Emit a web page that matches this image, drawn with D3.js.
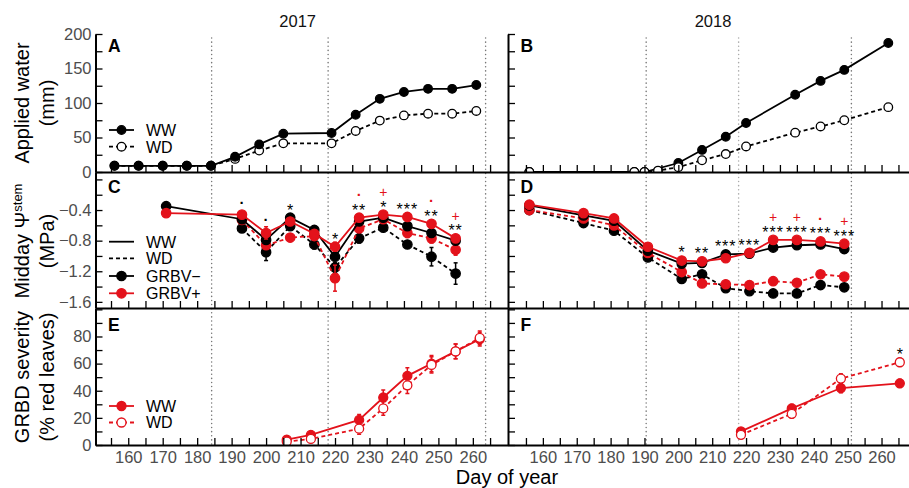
<!DOCTYPE html>
<html lang="en">
<head>
<meta charset="UTF-8">
<script src="https://cdn.jsdelivr.net/npm/d3@7"></script>
<style>
    body { margin: 0; background: #fff; }
    text { font-family: "Liberation Sans", Arial, sans-serif; }
    .axis path, .axis line { stroke: #000; }
    .axis path { stroke-width: 2px; }
    .axis line { stroke-width: 1.3px; }
    .axis text { fill: #4d4d4d; font-size: 16.5px; }
</style>
</head>
<body>
<svg id="chart" width="909" height="488"></svg>
<script>
// ---- applied water (mm) ----
const waterDays17 = [156, 163, 170, 177, 184, 191, 198, 205, 219, 226, 233, 240, 247, 254, 261]
const water17WW = [9, 9, 9, 9, 9, 22, 40, 55.5, 56.5, 83, 106, 116, 120.5, 120.5, 126]
const water17WD = [9, 9, 9, 9, 9, 19, 31, 41.5, 41.5, 59.5, 74.5, 82, 84.5, 84.5, 88.5]
const waterDays18WW = [156, 187, 190, 200, 207, 214, 220, 234.5, 242, 249, 262]
const water18WW = [0, 0, 0, 13, 32, 51, 71, 112, 132, 148, 187]
const waterDays18WD = [156, 187, 190, 194, 200, 207, 214, 220, 234.5, 242, 249, 262]
const water18WD = [0, 0, 0, 2, 7, 17, 26, 37, 57, 66, 75, 94]

// ---- midday stem water potential (MPa) ----
const psiDays17 = [171, 193, 200, 207, 214, 220, 227, 234, 241, 248, 255]
const psiWWneg17 = [-0.35, -0.52, -0.79, -0.50, -0.66, -1.01, -0.55, -0.50, -0.61, -0.70, -0.80]
const psiWWpos17 = [-0.44, -0.46, -0.70, -0.55, -0.71, -0.88, -0.50, -0.46, -0.49, -0.58, -0.77]
const errWWneg17 = [0.02, 0.04, 0.05, 0.04, 0.04, 0.05, 0.04, 0.03, 0.04, 0.04, 0.04]
const errWWpos17 = [0.02, 0.04, 0.08, 0.04, 0.05, 0.06, 0.04, 0.04, 0.04, 0.05, 0.05]
const psiDaysWD17 = [193, 200, 207, 214, 220, 227, 234, 241, 248, 255]
const psiWDneg17 = [-0.64, -0.95, -0.61, -0.85, -1.15, -0.77, -0.63, -0.85, -1.01, -1.23]
const psiWDpos17 = [-0.53, -0.86, -0.76, -0.74, -1.29, -0.64, -0.52, -0.70, -0.77, -0.92]
const errWDneg17 = [0.05, 0.11, 0.05, 0.06, 0.06, 0.06, 0.04, 0.05, 0.12, 0.14]
const errWDpos17 = [0.04, 0.05, 0.05, 0.05, 0.17, 0.05, 0.04, 0.06, 0.06, 0.07]
const sigBlack17 = ['', '·', '·', '*', '', '*', '**', '*', '***', '**', '**']
const sigRed17 = ['', '', '', '', '', '', '·', '+', '', '·', '+']

const psiDays18 = [156, 172, 181, 191, 201, 207, 214, 221, 228, 235, 242, 249]
const psiWWneg18 = [-0.34, -0.47, -0.54, -0.93, -1.10, -1.09, -0.98, -0.97, -0.89, -0.86, -0.85, -0.91]
const psiWWpos18 = [-0.33, -0.44, -0.51, -0.88, -1.06, -1.07, -1.03, -0.96, -0.79, -0.79, -0.81, -0.84]
const psiWDneg18 = [-0.40, -0.57, -0.67, -1.02, -1.30, -1.24, -1.42, -1.46, -1.49, -1.49, -1.38, -1.41]
const psiWDpos18 = [-0.40, -0.51, -0.60, -0.96, -1.21, -1.36, -1.37, -1.38, -1.33, -1.35, -1.24, -1.27]
const errPsi18 = [0.03, 0.03, 0.03, 0.04, 0.03, 0.04, 0.03, 0.03, 0.03, 0.03, 0.03, 0.03]
const sigBlack18 = ['', '', '', '', '*', '**', '***', '***', '***', '***', '***', '***']
const sigRed18 = ['', '', '', '', '', '', '', '', '+', '+', '·', '+']

// ---- GRBD severity (% red leaves) ----
const sevDays17 = [206, 213, 227, 234, 241, 248, 255, 262]
const sevWW17 = [4, 7.5, 18.5, 35, 51, 60, 69, 78]
const sevWD17 = [2.5, 4.5, 12, 27, 44, 59, 69, 79]
const errSevWW17 = [1.5, 2.5, 4, 5.5, 6, 6, 5.5, 5]
const errSevWD17 = [1.5, 2, 4, 5, 6, 6, 5.5, 5]
const sevDays18 = [218.5, 233.5, 248, 265.4]
const sevWW18 = [10, 27, 42, 45.5]
const sevWD18 = [7.5, 23, 49, 61]
const errSevWW18 = [2.5, 3, 3.5, 3]
const errSevWD18 = [2.5, 3, 3.5, 3]
const sigSev18 = ['', '', '', '*']

// phenology dates (vertical dotted lines)
const stageDays17 = [184.2, 218, 263.7]
const stageDays18 = [190.5, 217.8, 251.1]

const xTickDays = [155, 160, 165, 170, 175, 180, 185, 190, 195, 200, 205, 210, 215, 220, 225, 230, 235, 240, 245, 250, 255, 260, 265]

const RED = '#e3121b'
const svg = d3.select('#chart')

const cols = [
    {x0: 95.5, x1: 508, domain: [150.5, 270.2], title: '2017', titleX: 297.7, stages: stageDays17, letters: ['A', 'C', 'E']},
    {x0: 508, x1: 912, domain: [149.7, 269], title: '2018', titleX: 713, stages: stageDays18, letters: ['B', 'D', 'F']}
]
cols.forEach(c => { c.x = d3.scaleLinear().domain(c.domain).range([c.x0, c.x1]) })

const rows = [
    {y0: 34, y1: 172, domain: [0, 200], ticks: d3.range(0, 201, 25), label: v => v % 50 === 0 ? v : ''},
    {y0: 172, y1: 308, domain: [-1.68, 0.097], ticks: d3.range(-16, 1, 2).map(v => v / 10),
        label: v => (Math.round(v * 10) % 4 === 0 && v !== 0) ? d3.format('.1f')(v) : ''},
    {y0: 308, y1: 445, domain: [0, 101], ticks: d3.range(0, 101, 10), label: v => (v % 20 === 0 && v < 100) ? v : ''}
]
rows.forEach(r => { r.y = d3.scaleLinear().domain(r.domain).range([r.y1, r.y0]) })

// clip paths, one per panel
const defs = svg.append('defs')
cols.forEach((c, ci) => rows.forEach((r, ri) => {
    defs.append('clipPath').attr('id', `clip${ci}${ri}`)
        .append('rect').attr('x', c.x0).attr('y', r.y0).attr('width', c.x1 - c.x0).attr('height', r.y1 - r.y0)
}))

// dotted stage lines
cols.forEach((c, ci) => {
    svg.selectAll(null).data(c.stages).enter().append('line')
        .attr('x1', d => c.x(d)).attr('x2', d => c.x(d))
        .attr('y1', 38).attr('y2', 445)
        .attr('stroke', (d, i) => (ci === 1 && i === 1) ? '#aaa' : '#777')
        .attr('stroke-width', 1.5)
        .attr('stroke-linecap', 'round')
        .attr('stroke-dasharray', '0.1,4')
})

function panel(ci, ri) {
    return svg.append('g').attr('clip-path', `url(#clip${ci}${ri})`)
}

function series(g, x, y, days, vals, errs, o) {
    const line = d3.line().x((d, i) => x(days[i])).y(d => y(d))
    g.append('path').datum(vals)
        .attr('d', line)
        .attr('fill', 'none')
        .attr('stroke', o.color)
        .attr('stroke-width', 1.8)
        .attr('stroke-dasharray', o.dashed ? '4,3' : null)
    if (errs) {
        const eb = g.append('g').attr('stroke', o.color).attr('stroke-width', 1.5)
        vals.forEach((v, i) => {
            const cx = x(days[i])
            eb.append('line').attr('x1', cx).attr('x2', cx).attr('y1', y(v - errs[i])).attr('y2', y(v + errs[i]))
            eb.append('line').attr('x1', cx - 2).attr('x2', cx + 2).attr('y1', y(v - errs[i])).attr('y2', y(v - errs[i]))
            eb.append('line').attr('x1', cx - 2).attr('x2', cx + 2).attr('y1', y(v + errs[i])).attr('y2', y(v + errs[i]))
        })
    }
    g.selectAll(null).data(vals).enter().append('circle')
        .attr('cx', (d, i) => x(days[i]))
        .attr('cy', d => y(d))
        .attr('r', o.r)
        .attr('fill', o.filled ? o.color : '#fff')
        .attr('stroke', o.color)
        .attr('stroke-width', 1.3)
}

// significance marks; off = glyph centre height as a fraction of font size
function mark(txt, color, cx, cy) {
    if (!txt) return
    let fs = 16, off = 0.6, weight = 'normal'
    if (txt === '+') { fs = 14; off = 0.36 }
    if (txt === '·') { fs = 15; off = 0.33; weight = 'bold' }
    svg.append('text')
        .attr('x', cx).attr('y', cy + off * fs)
        .attr('text-anchor', 'middle')
        .attr('font-size', fs)
        .attr('font-weight', weight)
        .attr('letter-spacing', txt.length > 1 ? 1 : 0)
        .attr('fill', color)
        .text(txt)
}

function significance(x, y, days, groups, black, red, r) {
    days.forEach((d, i) => {
        let top = Infinity
        groups.forEach(gr => {
            const j = gr.days.indexOf(d)
            if (j < 0) return
            const e = gr.errs ? gr.errs[j] : 0
            top = Math.min(top, y(gr.vals[j] + e), y(gr.vals[j]) - r)
        })
        const cy = top - 7
        mark(black[i], '#000', x(d), cy)
        if (red) mark(red[i], RED, x(d), cy - 11)
    })
}

// ---- row A / B: applied water ----
{
    const c = cols[0], r = rows[0], g = panel(0, 0)
    series(g, c.x, r.y, waterDays17, water17WD, null, {color: '#000', dashed: true, filled: false, r: 4.3})
    series(g, c.x, r.y, waterDays17, water17WW, null, {color: '#000', dashed: false, filled: true, r: 4.3})
}
{
    const c = cols[1], r = rows[0], g = panel(1, 0)
    series(g, c.x, r.y, waterDays18WW, water18WW, null, {color: '#000', dashed: false, filled: true, r: 4.3})
    series(g, c.x, r.y, waterDays18WD, water18WD, null, {color: '#000', dashed: true, filled: false, r: 4.3})
}

// ---- row C / D: stem water potential ----
{
    const c = cols[0], r = rows[1], g = panel(0, 1)
    series(g, c.x, r.y, psiDaysWD17, psiWDneg17, errWDneg17, {color: '#000', dashed: true, filled: true, r: 4.7})
    series(g, c.x, r.y, psiDaysWD17, psiWDpos17, errWDpos17, {color: RED, dashed: true, filled: true, r: 4.7})
    series(g, c.x, r.y, psiDays17, psiWWneg17, errWWneg17, {color: '#000', dashed: false, filled: true, r: 4.7})
    series(g, c.x, r.y, psiDays17, psiWWpos17, errWWpos17, {color: RED, dashed: false, filled: true, r: 4.7})
    significance(c.x, r.y, psiDays17, [
        {days: psiDays17, vals: psiWWneg17, errs: errWWneg17},
        {days: psiDays17, vals: psiWWpos17, errs: errWWpos17},
        {days: psiDaysWD17, vals: psiWDneg17, errs: errWDneg17},
        {days: psiDaysWD17, vals: psiWDpos17, errs: errWDpos17}
    ], sigBlack17, sigRed17, 4.7)
}
{
    const c = cols[1], r = rows[1], g = panel(1, 1)
    series(g, c.x, r.y, psiDays18, psiWDneg18, errPsi18, {color: '#000', dashed: true, filled: true, r: 4.7})
    series(g, c.x, r.y, psiDays18, psiWDpos18, errPsi18, {color: RED, dashed: true, filled: true, r: 4.7})
    series(g, c.x, r.y, psiDays18, psiWWneg18, errPsi18, {color: '#000', dashed: false, filled: true, r: 4.7})
    series(g, c.x, r.y, psiDays18, psiWWpos18, errPsi18, {color: RED, dashed: false, filled: true, r: 4.7})
    significance(c.x, r.y, psiDays18, [
        {days: psiDays18, vals: psiWWneg18, errs: errPsi18},
        {days: psiDays18, vals: psiWWpos18, errs: errPsi18},
        {days: psiDays18, vals: psiWDneg18, errs: errPsi18},
        {days: psiDays18, vals: psiWDpos18, errs: errPsi18}
    ], sigBlack18, sigRed18, 4.7)
}

// ---- row E / F: GRBD severity ----
{
    const c = cols[0], r = rows[2], g = panel(0, 2)
    series(g, c.x, r.y, sevDays17, sevWW17, errSevWW17, {color: RED, dashed: false, filled: true, r: 4.5})
    series(g, c.x, r.y, sevDays17, sevWD17, errSevWD17, {color: RED, dashed: true, filled: false, r: 4.5})
}
{
    const c = cols[1], r = rows[2], g = panel(1, 2)
    series(g, c.x, r.y, sevDays18, sevWW18, errSevWW18, {color: RED, dashed: false, filled: true, r: 4.5})
    series(g, c.x, r.y, sevDays18, sevWD18, errSevWD18, {color: RED, dashed: true, filled: false, r: 4.5})
    significance(c.x, r.y, sevDays18, [{days: sevDays18, vals: sevWD18, errs: errSevWD18}], sigSev18, null, 4.5)
}

// ---- axes ----
cols.forEach((c, ci) => rows.forEach((r, ri) => {
    const last = ri === rows.length - 1
    svg.append('g').attr('class', 'axis')
        .attr('transform', `translate(0,${r.y1})`)
        .call(d3.axisBottom(c.x).tickValues(xTickDays.filter(d => c.x(d) > c.x0 + 3 && c.x(d) < 909))
            .tickSizeInner(-7).tickSizeOuter(0).tickPadding(6)
            .tickFormat(d => (last && d % 10 === 0) ? d : ''))
    svg.append('g').attr('class', 'axis')
        .attr('transform', `translate(${c.x0},0)`)
        .call(d3.axisLeft(r.y).tickValues(r.ticks)
            .tickSizeInner(-7).tickSizeOuter(0).tickPadding(4)
            .tickFormat(ci === 0 ? r.label : () => ''))
}))

// panel letters and year titles
cols.forEach(c => {
    svg.append('text').attr('x', c.titleX).attr('y', 26.5)
        .attr('text-anchor', 'middle').attr('font-size', 16.5).attr('fill', '#111')
        .text(c.title)
    c.letters.forEach((L, ri) => {
        svg.append('text').attr('x', c.x0 + 12.5).attr('y', [51.7, 193.3, 330.7][ri])
            .attr('font-size', 17.5).attr('font-weight', 'bold').text(L)
    })
})

// y axis titles
function yTitle(cy, line1, line2, sub) {
    const t1 = svg.append('text').attr('transform', `translate(29,${cy}) rotate(-90)`)
        .attr('text-anchor', 'middle').attr('font-size', 20).text(line1)
    if (sub) t1.append('tspan').attr('font-size', 13).attr('dy', -7).text(sub)
    svg.append('text').attr('transform', `translate(54,${cy}) rotate(-90)`)
        .attr('text-anchor', 'middle').attr('font-size', 20).text(line2)
}
yTitle(103, 'Applied water', '(mm)')
yTitle(241, 'Midday Ψ', '(MPa)', 'stem')
yTitle(377, 'GRBD severity', '(% red leaves)')

svg.append('text').attr('x', 507).attr('y', 484).attr('text-anchor', 'middle')
    .attr('font-size', 20).text('Day of year')

// ---- legends ----
function legendRow(y, label, o) {
    const g = svg.append('g')
    g.append('line').attr('x1', 109).attr('x2', 134).attr('y1', y).attr('y2', y)
        .attr('stroke', o.color).attr('stroke-width', 1.8)
        .attr('stroke-dasharray', o.dashed ? '4,3' : null)
    if (o.r) g.append('circle').attr('cx', 121.5).attr('cy', y).attr('r', o.r)
        .attr('fill', o.filled ? o.color : '#fff').attr('stroke', o.color).attr('stroke-width', 1.3)
    g.append('text').attr('x', 146).attr('y', y + 5.8).attr('font-size', 16).text(label)
}
legendRow(130, 'WW', {color: '#000', filled: true, r: 4.3})
legendRow(146.7, 'WD', {color: '#000', dashed: true, filled: false, r: 4.3})
legendRow(241.7, 'WW', {color: '#000'})
legendRow(258.3, 'WD', {color: '#000', dashed: true})
legendRow(276, 'GRBV−', {color: '#000', filled: true, r: 4.7})
legendRow(293.3, 'GRBV+', {color: RED, filled: true, r: 4.7})
legendRow(406, 'WW', {color: RED, filled: true, r: 4.5})
legendRow(422.5, 'WD', {color: RED, dashed: true, filled: false, r: 4.5})
</script>
</body>
</html>
